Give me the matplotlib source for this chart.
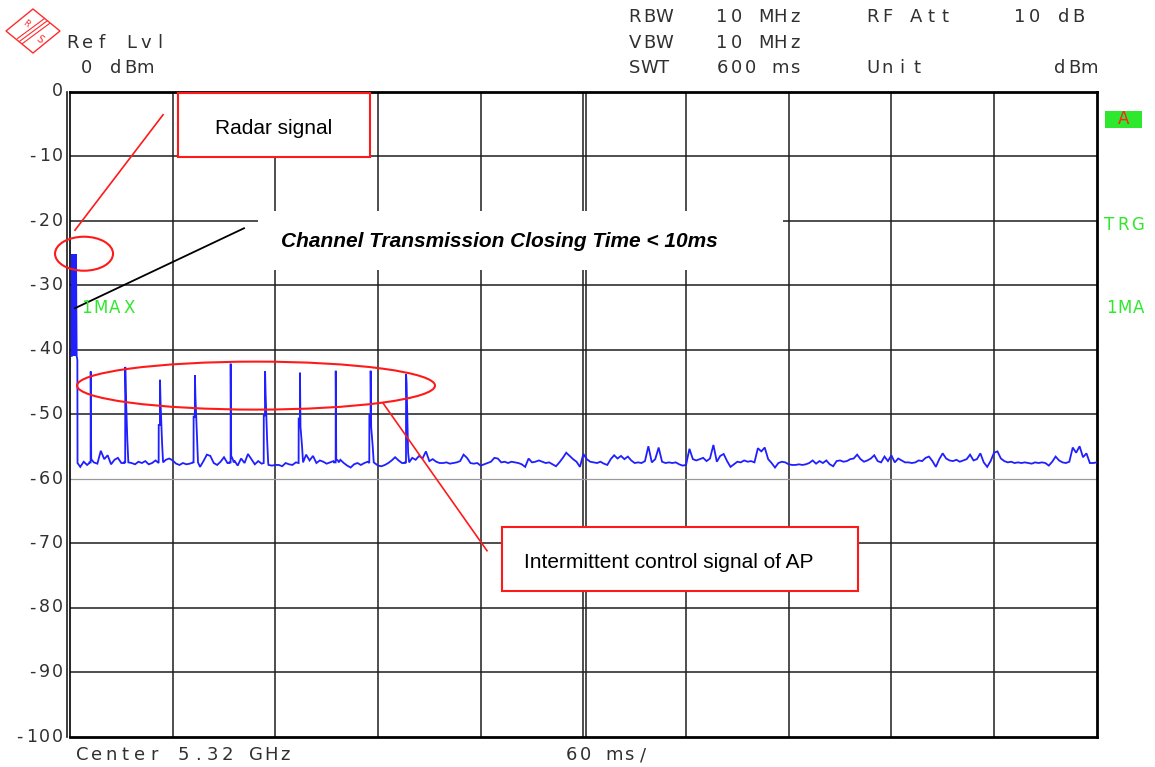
import numpy as np
import matplotlib
matplotlib.use('Agg')
import matplotlib.pyplot as plt
from matplotlib.patches import Ellipse, Rectangle, Polygon
from matplotlib.lines import Line2D
from matplotlib import transforms

W, H = 1155, 767

# sweep: 600 ms, ref level 0 dBm, 10 dB/div
x_span = 600
y_ticks = [0, -10, -20, -30, -40, -50, -60, -70, -80, -90, -100]

# max-hold noise floor, one reading every 2 ms
floor_db = [
    -57.6, -57.6, -57.8, -58.2, -57.4, -57.9, -57.9, -57.2, -57.7, -55.7, -57.0, -56.4, -57.8, -57.1,
    -56.8, -57.6, -57.5, -56.9, -57.6, -57.8, -57.4, -57.6, -57.3, -57.8, -57.6, -57.2, -57.6, -57.9, -57.1,
    -56.9, -57.2, -57.7, -57.9, -57.6, -57.8, -57.7, -57.5, -57.4, -58.2, -57.3, -56.3, -56.5, -57.6, -57.9,
    -57.4, -56.7, -57.6, -57.9, -57.2, -58.0, -56.9, -57.6, -56.2, -57.0, -57.8, -57.3, -57.7, -57.6, -57.9,
    -58.0, -57.9, -57.9, -58.1, -57.6, -57.8, -57.9, -57.5, -57.4, -57.3, -56.3, -57.2, -56.5, -57.6, -57.2,
    -57.4, -57.7, -57.5, -57.3, -56.8, -57.1, -57.6, -58.0, -58.3, -57.8, -57.6, -57.9, -57.6, -57.4, -57.5,
    -57.6, -58.0, -58.1, -57.9, -57.6, -57.2, -56.7, -57.2, -57.6, -57.5, -57.5, -56.8, -57.1, -56.5, -56.9,
    -55.8, -57.3, -57.0, -57.4, -57.6, -57.6, -57.5, -57.7, -57.6, -57.5, -57.3, -56.3, -56.8, -57.6, -57.7,
    -57.6, -58.0, -57.8, -57.6, -57.4, -56.8, -56.9, -57.5, -57.4, -57.6, -57.4, -57.5, -57.6, -57.8, -58.2,
    -56.9, -57.5, -57.4, -57.2, -57.4, -57.6, -57.5, -57.8, -58.1, -57.5, -56.8, -56.0, -56.5, -57.0, -57.4,
    -58.2, -56.2, -57.0, -57.4, -57.5, -57.6, -57.4, -57.7, -57.9, -57.0, -56.4, -56.9, -56.5, -57.0, -56.6,
    -57.2, -57.6, -57.5, -57.6, -57.3, -55.0, -57.5, -57.0, -55.2, -57.4, -57.6, -57.5, -57.6, -57.5, -57.8,
    -58.0, -57.9, -55.4, -57.0, -57.2, -57.0, -56.8, -57.3, -56.9, -54.8, -57.4, -56.5, -56.2, -57.3, -58.2,
    -57.8, -57.4, -57.5, -57.2, -57.4, -57.3, -57.5, -55.3, -55.8, -55.2, -57.0, -57.6, -58.3, -57.6, -57.4,
    -57.5, -57.8, -57.9, -57.9, -57.8, -57.9, -57.8, -57.6, -57.2, -57.7, -57.3, -57.6, -57.2, -57.8, -58.1,
    -57.3, -57.2, -57.4, -57.3, -57.0, -56.9, -56.3, -57.0, -57.4, -57.2, -56.9, -56.4, -57.3, -57.5, -56.6,
    -57.3, -56.4, -57.5, -56.9, -57.2, -57.5, -57.5, -57.6, -57.5, -57.2, -57.3, -56.8, -56.6, -57.3, -58.2,
    -57.0, -56.1, -56.9, -57.2, -57.3, -57.1, -57.4, -57.2, -57.0, -56.3, -57.2, -57.0, -56.1, -57.5, -58.2,
    -57.3, -56.0, -55.8, -56.9, -57.3, -57.5, -57.4, -57.6, -57.5, -57.6, -57.5, -57.6, -57.7, -57.5, -57.6,
    -57.5, -57.6, -58.0, -57.4, -56.6, -57.2, -57.5, -57.6, -57.4, -55.2, -56.0, -55.0, -56.7, -56.1, -57.6,
    -57.6, -57.5,
]
floor_t = np.arange(len(floor_db)) * 2.0

# radar burst at the start of the sweep (pulsed, max hold)
radar_t = [1.0, 1.1, 1.6, 1.7, 2.2, 2.3, 2.8, 2.9, 3.4, 3.5, 3.9, 4.3, 4.4]
radar_db = [-41.0, -25.2, -41.0, -25.2, -41.0, -25.2, -41.0, -25.2, -41.0, -25.2, -41.0, -41.6, -57.6]

# AP control bursts
spike_t = [12.1, 32.3, 52.6, 73.0, 93.9, 114.0, 134.4, 155.3, 175.7, 196.4]
spike_peak = [-43.4, -42.7, -44.7, -44.0, -42.2, -43.4, -43.6, -43.3, -43.3, -43.8]
spike_pre = [-57.5, -57.5, -51.7, -50.4, -57.5, -50.2, -50.7, -57.5, -50.2, -57.5]
spike_post = [-57.0, -46.5, -48.0, -47.3, -56.5, -46.8, -52.0, -57.0, -52.0, -45.2]
spike_tail = [-57.3, -54.0, -54.5, -53.5, -57.0, -54.0, -55.0, -57.2, -55.0, -56.0]

# merge floor, radar and bursts into one trace
pts = [(t, v) for t, v in zip(floor_t, floor_db)
       if t > 4.6 and all(not (s - 1.0 < t < s + 2.0) for s in spike_t)]
pts += list(zip(radar_t, radar_db))
for s, pk, pre, post, tail in zip(spike_t, spike_peak, spike_pre, spike_post, spike_tail):
    pts += [(s - 0.8, -57.6), (s - 0.75, pre), (s - 0.05, pre), (s, pk),
            (s + 0.3, post), (s + 1.2, tail), (s + 1.8, -57.5)]
pts.sort(key=lambda p: p[0])
trace_t = [p[0] for p in pts]
trace_db = [p[1] for p in pts]

fig = plt.figure(figsize=(W / 100, H / 100), dpi=100)
ax = fig.add_axes([70 / W, (H - 736.5) / H, 1026.7 / W, 645 / H])
ax.set_xlim(0, x_span)
ax.set_ylim(-100, 0)
ax.set_xticks([])
ax.set_yticks([])
for side in ['top', 'bottom', 'right']:
    ax.spines[side].set_linewidth(2.0)
ax.spines['left'].set_linewidth(1.2)

grid_c = '#1e1e1e'
for gx in np.arange(60, x_span, 60):
    ax.axvline(gx, color=grid_c, lw=1.1, zorder=1)
ax.axvline(301.4, color=grid_c, lw=1.1, zorder=1)
ax.axvline(-1.75, color=grid_c, lw=1.2, zorder=1, clip_on=False)
for gy in y_ticks[1:-1]:
    ax.axhline(gy, color='#9a9a9a' if gy == -60 else grid_c, lw=0.9 if gy == -60 else 1.1, zorder=1)

ax.plot(trace_t, trace_db, color='#1f1fff', lw=1.3, zorder=3, solid_joinstyle='miter')


def fx(x):
    return x / W


def fy(y):
    return 1 - y / H


def mono(x, y, s, color='#303030', pitch=14.5, size=13):
    # fixed pitch, each glyph centred in its cell
    for i, c in enumerate(s):
        fig.text(fx(x + 5 + i * pitch), fy(y), c, ha='center', va='center', color=color,
                 family='DejaVu Sans', fontsize=size)


# y labels, right aligned against the frame
tr = transforms.blended_transform_factory(fig.transFigure, ax.transData)
for v in y_ticks:
    s = str(v)
    for i, c in enumerate(reversed(s)):
        ax.text(fx(57 - i * 12.5), v, c, ha='center', va='center', transform=tr,
                family='DejaVu Sans', fontsize=12.5, color='#303030', clip_on=False)

# header
mono(68, 43, 'Ref Lvl')
mono(82, 68, '0 dBm')
mono(630, 17, 'RBW')
mono(717, 17, '10 MHz')
mono(868, 17, 'RF Att')
mono(1015, 17, '10 dB')
mono(630, 43, 'VBW')
mono(717, 43, '10 MHz')
mono(630, 68, 'SWT')
mono(717, 68, '600 ms')
mono(868, 68, 'Unit')
mono(1055, 68, 'dBm')
mono(77, 755, 'Center 5.32 GHz')
mono(566, 755, '60 ms/')

green = '#2ee82e'
fig.add_artist(Rectangle((fx(1105), fy(128)), 37 / W, 17 / H, transform=fig.transFigure,
                         facecolor=green, edgecolor='none'))
fig.text(fx(1123.5), fy(119.5), 'A', color='#ff2020', ha='center', va='center',
         family='DejaVu Sans', fontsize=12)
mono(1104, 225, 'TRG', color=green, pitch=14.5, size=12)
mono(1106, 308, '1MA', color=green, pitch=14, size=12)
mono(81, 308, '1MAX', color=green, pitch=14.5, size=12)

# logo
red = '#ff2a2a'
cx, cy = 33, 31
fig.add_artist(Polygon([(fx(cx - 27), fy(cy)), (fx(cx), fy(cy - 22)), (fx(cx + 27), fy(cy)),
                        (fx(cx), fy(cy + 22))], closed=True, fill=False, edgecolor=red, lw=1.0,
                       transform=fig.transFigure))
for d in (-2.5, 0, 2.5):
    fig.add_artist(Line2D([fx(20 + d), fx(47 + d)], [fy(41 + d), fy(21 + d)], color=red, lw=0.8,
                          transform=fig.transFigure))
fig.text(fx(26), fy(24), 'R', color=red, fontsize=6, rotation=-37, ha='center', va='center')
fig.text(fx(40), fy(39), 'S', color=red, fontsize=7, rotation=-37, ha='center', va='center')

# annotations
ax.add_patch(Rectangle((63.1, -10.2), 112.2, 10.0, facecolor='white', edgecolor='#ff1a1a',
                       lw=1.5, zorder=5, clip_on=False))
ax.text(119.2, -5.66, 'Radar signal', ha='center', va='center', fontsize=15,
        family='Liberation Sans', zorder=6)
ax.plot([54.4, 2.9], [-3.6, -21.5], color='#ff1a1a', lw=1.2, zorder=6)
ax.add_patch(Ellipse((8.2, -25.15), 33.9, 5.27, fill=False, edgecolor='#ff1a1a', lw=1.5,
                     zorder=6, clip_on=False))

ax.add_patch(Rectangle((109.9, -27.7), 306.8, 9.2, facecolor='white', edgecolor='none', zorder=4))
ax.text(123.3, -23.2, 'Channel Transmission Closing Time < 10ms', ha='left', va='center',
        fontsize=15, family='Liberation Sans', weight='bold', style='italic', zorder=6)
ax.plot([2.9, 101.7], [-33.6, -21.2], color='black', lw=1.3, zorder=6)

ax.add_patch(Ellipse((108.7, -45.6), 209.2, 7.44, fill=False, edgecolor='#ff1a1a', lw=1.5, zorder=6))
ax.plot([182.9, 243.7], [-48.3, -71.2], color='#ff1a1a', lw=1.2, zorder=6)
ax.add_patch(Rectangle((252.5, -77.4), 208.0, 9.9, facecolor='white', edgecolor='#ff1a1a',
                       lw=1.5, zorder=5))
ax.text(265.3, -73.1, 'Intermittent control signal of AP', ha='left', va='center', fontsize=15,
        family='Liberation Sans', zorder=6)

fig.savefig('out.png', dpi=100)
